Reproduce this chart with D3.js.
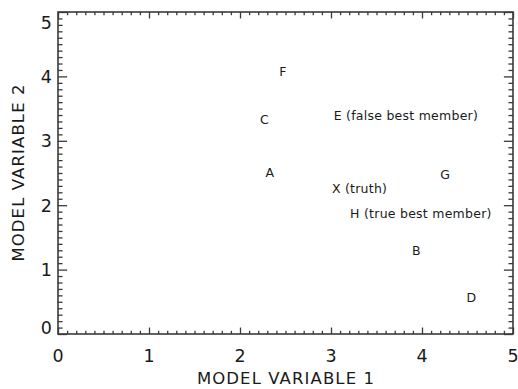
<!DOCTYPE html>
<html>
<head>
<meta charset="utf-8">
<script src="https://cdn.jsdelivr.net/npm/d3@7"></script>
<style>
  html, body { margin: 0; padding: 0; background: #fff; }
  svg { display: block; }
  text { font-family: "DejaVu Sans", sans-serif; fill: #1a1a1a; }
</style>
</head>
<body>
<script>
// Ensemble members in the two-variable model space
const memberLabels = ["A", "B", "C", "D", "E (false best member)", "F", "G", "H (true best member)", "X (truth)"];
const memberX = [2.28, 3.89, 2.22, 4.49, 3.03, 2.43, 4.20, 3.21, 3.01];
const memberY = [2.44, 1.23, 3.26, 0.50, 3.33, 4.00, 2.41, 1.80, 2.19];

const xTicks = [0, 1, 2, 3, 4, 5];
const yTicks = [0, 1, 2, 3, 4, 5];
const xTitle = "MODEL VARIABLE 1";
const yTitle = "MODEL VARIABLE 2";

const W = 518, H = 389;
const mLeft = 58, mRight = 513, mTop = 12, mBottom = 334;
const pw = mRight - mLeft, ph = mBottom - mTop;

const svg = d3.select("body").append("svg").attr("width", W).attr("height", H);

const x = d3.scaleLinear().domain([0, 5]).range([mLeft, mRight]);
const y = d3.scaleLinear().domain([0, 5]).range([mBottom, mTop]);

// tick lengths follow the usual 2% of the plot size, minors at half
const xMaj = 0.02 * ph, xMin = xMaj / 2;
const yMaj = 0.02 * pw, yMin = yMaj / 2;

const minorX = d3.range(0, 50).map(i => i / 10).filter(v => v % 1 !== 0);
const minorY = minorX;
const axisColor = "#3a3a3a";

function styleAxis(g) {
  g.select(".domain").remove();
  g.selectAll("line").attr("stroke", axisColor).attr("stroke-width", 1.3);
}

// bottom & top axes, ticks pointing inward
svg.append("g").attr("transform", `translate(0,${mBottom})`)
  .call(d3.axisTop(x).tickValues(xTicks).tickSize(xMaj).tickFormat(""))
  .call(styleAxis);
svg.append("g").attr("transform", `translate(0,${mBottom})`)
  .call(d3.axisTop(x).tickValues(minorX).tickSize(xMin).tickFormat(""))
  .call(styleAxis);
svg.append("g").attr("transform", `translate(0,${mTop})`)
  .call(d3.axisBottom(x).tickValues(xTicks).tickSize(xMaj).tickFormat(""))
  .call(styleAxis);
svg.append("g").attr("transform", `translate(0,${mTop})`)
  .call(d3.axisBottom(x).tickValues(minorX).tickSize(xMin).tickFormat(""))
  .call(styleAxis);

// left & right axes
svg.append("g").attr("transform", `translate(${mLeft},0)`)
  .call(d3.axisRight(y).tickValues(yTicks).tickSize(yMaj).tickFormat(""))
  .call(styleAxis);
svg.append("g").attr("transform", `translate(${mLeft},0)`)
  .call(d3.axisRight(y).tickValues(minorY).tickSize(yMin).tickFormat(""))
  .call(styleAxis);
svg.append("g").attr("transform", `translate(${mRight},0)`)
  .call(d3.axisLeft(y).tickValues(yTicks).tickSize(yMaj).tickFormat(""))
  .call(styleAxis);
svg.append("g").attr("transform", `translate(${mRight},0)`)
  .call(d3.axisLeft(y).tickValues(minorY).tickSize(yMin).tickFormat(""))
  .call(styleAxis);

// frame
svg.append("rect").attr("x", mLeft).attr("y", mTop).attr("width", pw).attr("height", ph)
  .attr("fill", "none").attr("stroke", axisColor).attr("stroke-width", 1.6);

// tick labels
const labelSize = 17.5;
svg.append("g").selectAll("text").data(xTicks).join("text")
  .attr("x", d => x(d)).attr("y", mBottom + 27.5)
  .attr("text-anchor", "middle").attr("font-size", labelSize)
  .text(d => d);

svg.append("g").selectAll("text").data(yTicks).join("text")
  .attr("x", mLeft - 6).attr("y", d => y(d))
  .attr("dy", d => d === 5 ? "0.98em" : d === 0 ? "-0.02em" : "0.36em")
  .attr("text-anchor", "end").attr("font-size", labelSize)
  .text(d => d);

// axis titles
svg.append("text").attr("x", (mLeft + mRight) / 2 + 0.5).attr("y", 384)
  .attr("text-anchor", "middle").attr("font-size", 16.5)
  .attr("letter-spacing", 1.1).text(xTitle);
svg.append("text")
  .attr("transform", `translate(24,${(mTop + mBottom) / 2 - 0.5}) rotate(-90)`)
  .attr("text-anchor", "middle").attr("font-size", 16.5)
  .attr("letter-spacing", 1.1).text(yTitle);

// member labels, anchored at their baseline-left corner
svg.append("g").selectAll("text").data(memberLabels).join("text")
  .attr("x", (d, i) => x(memberX[i]))
  .attr("y", (d, i) => y(memberY[i]))
  .attr("font-size", 12.5)
  .attr("letter-spacing", 0.25)
  .text(d => d);
</script>
</body>
</html>
